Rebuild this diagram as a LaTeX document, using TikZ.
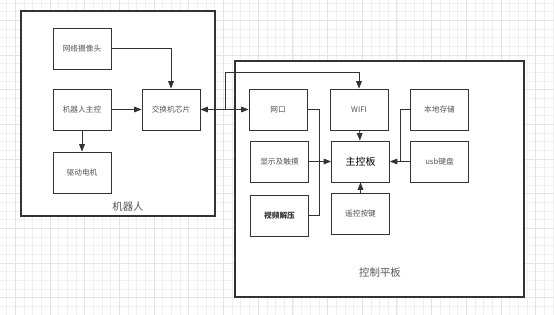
\documentclass[tikz,border=0pt]{standalone}
\usepackage{fontspec}
\setmainfont{Noto Sans CJK SC}
\usetikzlibrary{arrows.meta, positioning}
\definecolor{linegray}{HTML}{333333}
\definecolor{txtgray}{HTML}{555555}
\definecolor{gridminor}{HTML}{F0F0F0}
\definecolor{gridmajor}{HTML}{E4E4E4}

\begin{document}
\begin{tikzpicture}[
  x=1pt, y=-1pt,
  box/.style={draw=linegray, line width=0.9pt, fill=white, minimum width=58pt, minimum height=41pt,
    inner sep=0pt, align=center, font=\fontsize{7.7}{9}\selectfont, text=txtgray},
  frame/.style={draw=linegray, line width=1.1pt, fill=white, inner sep=0pt},
  lbl/.style={font=\fontsize{10.4}{12}\selectfont, text=txtgray},
  arr/.style={-{Triangle[length=2.6mm, width=2mm]}, draw=linegray, line width=0.8pt},
  arrs/.style={{Triangle[length=2.6mm, width=2mm]}-{Triangle[length=2.6mm, width=2mm]}, draw=linegray, line width=0.8pt},
  ln/.style={draw=linegray, line width=0.8pt}
]
\useasboundingbox (0,0) rectangle (554,315);
\fill[white] (0,0) rectangle (554,315);
% background grid
\foreach \i in {0,...,63} \draw[gridminor, line width=0.6pt] ({6.7+\i*8.67},0) -- ++(0,315);
\foreach \i in {0,...,36} \draw[gridminor, line width=0.6pt] (0,{2.9+\i*8.67}) -- ++(554,0);
\foreach \i in {0,...,15} \draw[gridmajor, line width=0.6pt] ({15.3+\i*34.68},0) -- ++(0,315);
\foreach \i in {0,...,9} \draw[gridmajor, line width=0.6pt] (0,{20.2+\i*34.68}) -- ++(554,0);

% robot side
\node[frame, minimum width=194pt, minimum height=205pt] (robot) at (118,113.5) {};
\node[lbl] (robotlbl) at (128,207) {机器人};
\node[box] (cam) at (82,48.5) {网络摄像头};
\node[box] (rctl) at (82,109.5) {机器人主控};
\node[box] (motor) at (82,172.5) {驱动电机};
\node[box] (switch) at (171,109.5) {交换机芯片};
\draw[arr] (cam) -| (switch);
\draw[arr] (rctl) -- (switch);
\draw[arr] (rctl) -- (motor);

% control panel side
\node[frame, minimum width=289pt, minimum height=236pt] (panel) at (379.5,179) {};
\node[lbl] (panellbl) at (380,273) {控制平板};
\node[box] (net) at (278,109.5) {网口};
\node[box] (wifi) at (359,109.5) {WIFI};
\node[box] (store) at (439.5,109.5) {本地存储};
\node[box] (disp) at (279.5,161.5) {显示及触摸};
\node[box, font=\fontsize{10}{12}\selectfont, text=black] (mainb) at (360.5,161.5) {主控板};
\node[box, font=\bfseries\fontsize{7.7}{9}\selectfont, text=linegray] (dec) at (279.5,215.5) {视频解压};
\node[box] (usb) at (439.5,161.5) {usb键盘};
\node[box] (remote) at (360.5,213.5) {遥控按键};

\coordinate (j) at (225,109.5);
\coordinate (jt) at (225,72);
\coordinate (busl) at (319,161.5);
\coordinate (busr) at (400,161.5);

\draw[arrs] (switch) -- (net);
\draw[arr] (j) -- (jt) -| (wifi);
\draw[ln] (net.east) -| (busl);
\draw[ln] (dec.east) -| (busl);
\draw[arr] (disp) -- (mainb);
\draw[arr] (wifi) -- (mainb);
\draw[arr] (remote) -- (mainb);
\draw[ln] (store.west) -| (busr);
\draw[arr] (usb) -- (mainb);
\end{tikzpicture}
\end{document}
